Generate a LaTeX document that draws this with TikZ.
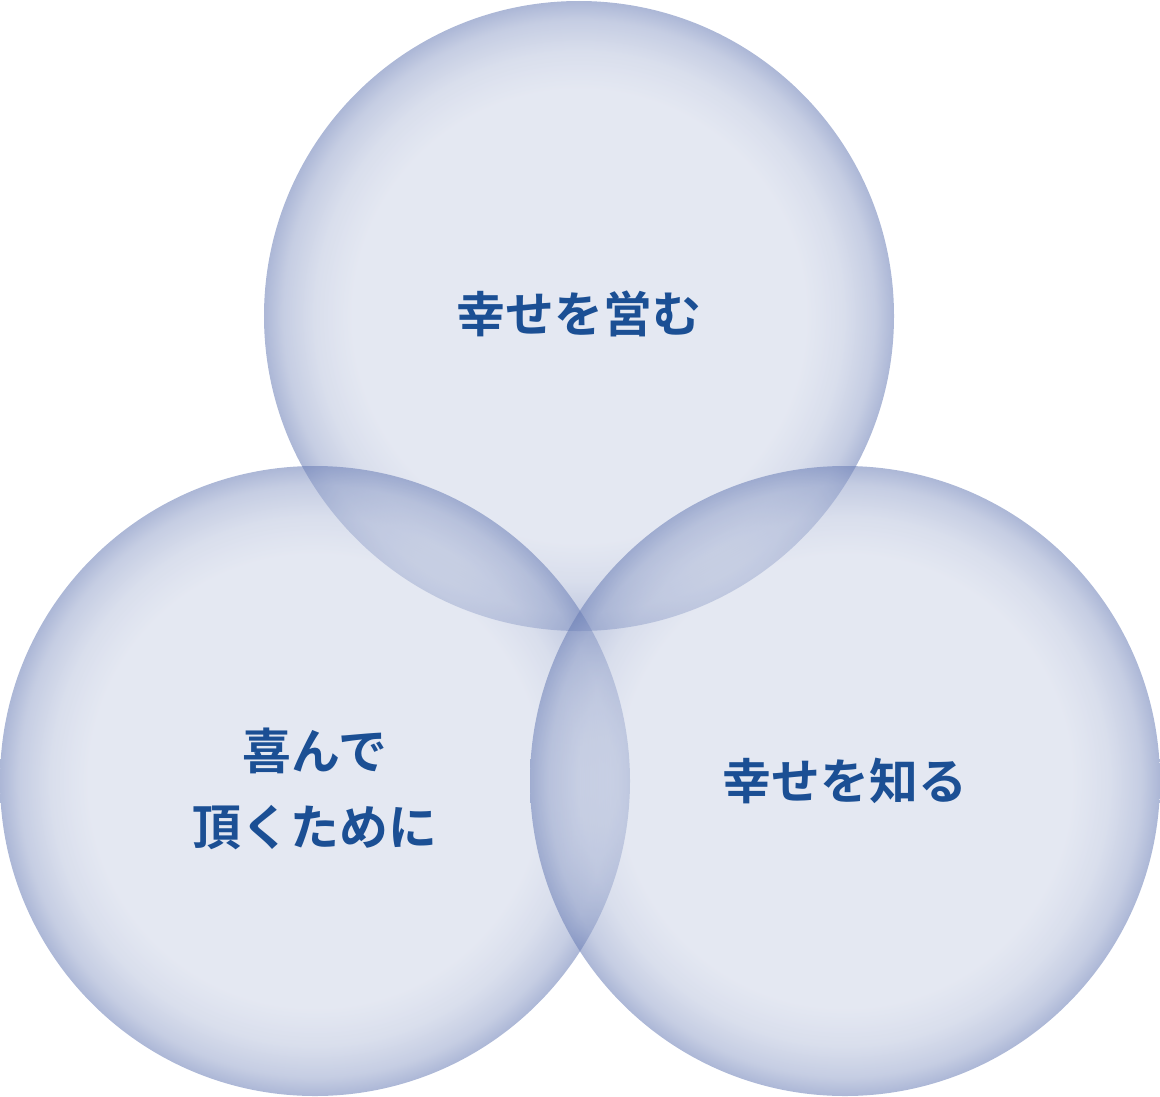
\documentclass[tikz,border=0pt]{standalone}
\usepackage{fontspec}
\newfontfamily\jpfont{Noto Sans CJK JP}[BoldFont={* Bold}]
\usepackage{xcolor}
\usepackage{tikz}
\usetikzlibrary{shapes,positioning}

\definecolor{orbin}{RGB}{206,213,231}
\definecolor{orbout}{RGB}{104,124,181}
\definecolor{labelblue}{RGB}{27,79,148}
\pgfdeclareradialshading{orb}{\pgfpoint{0bp}{0bp}}{color(0bp)=(orbin); color(18bp)=(orbin); color(21bp)=(orbin!80!orbout); color(23.5bp)=(orbin!45!orbout); color(25bp)=(orbout); color(50bp)=(orbout)}

\begin{document}
\begin{tikzpicture}[x=1bp, y=-1bp,
        circ/.style={circle, minimum size=630bp, inner sep=0pt, shading=orb, fill opacity=0.55},
        label/.style={text=labelblue, font=\jpfont\bfseries\fontsize{49}{76}\selectfont, align=center, text opacity=1}
    ]
        \useasboundingbox (0,0) rectangle (1160,1097);

        % Circles
        \node[circ] (top) at (579,316) {};
        \node[circ] (left) at (315,781) {};
        \node[circ] (right) at (845,781) {};

        % Labels
        \node[label, yshift=2bp] (toptext) at (top) {幸せを営む};
        \node[label, yshift=-8bp] (lefttext) at (left) {喜んで\\頂くために};
        \node[label] (righttext) at (right) {幸せを知る};

    \end{tikzpicture}
\end{document}
